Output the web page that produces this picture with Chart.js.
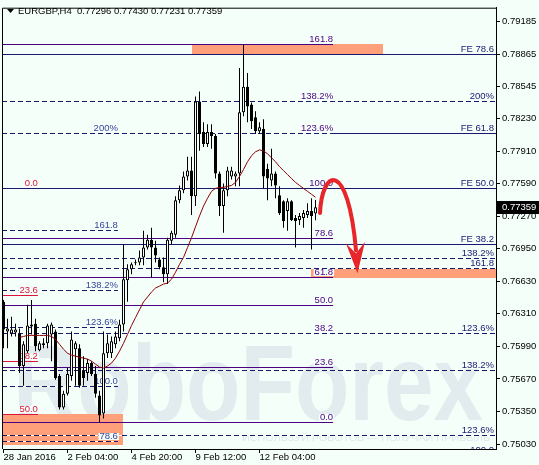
<!DOCTYPE html>
<html>
<head>
<meta charset="utf-8">
<title>EURGBP H4</title>
<script src="https://cdn.jsdelivr.net/npm/chart.js"></script>
<style>
  html, body { margin: 0; padding: 0; background: #f5fffa; }
  #wrap { width: 539px; height: 465px; }
  canvas { display: block; }
</style>
</head>
<body>
<div id="wrap"><canvas id="chart" width="539" height="465"></canvas></div>
<script>
// ---- candles (one H4 bar per index) ----
const opens  = [0.76428,0.76137,0.76117,0.76127,0.76117,0.75797,0.75943,0.76185,0.76214,0.75952,
                0.76001,0.76020,0.76108,0.76137,0.75700,0.75389,0.75525,0.75700,0.75962,0.75972,
                0.75748,0.75729,0.75826,0.75719,0.75506,0.75331,0.75923,0.75923,0.76011,0.76069,
                0.76205,0.76641,0.76748,0.76807,0.76816,0.76865,0.76962,0.77040,0.76962,0.76845,
                0.76768,0.76700,0.77030,0.77088,0.77428,0.77525,0.77661,0.77719,0.77467,0.78399,
                0.78098,0.77981,0.78098,0.78059,0.77690,0.77370,0.77525,0.77661,0.77661,0.77690,
                0.78292,0.78544,0.78370,0.78243,0.78107,0.78127,0.77738,0.77622,0.77690,0.77476,
                0.77418,0.77321,0.77418,0.77253,0.77234,0.77253,0.77282,0.77321,0.77296];
const highs  = [0.76447,0.76263,0.76282,0.76214,0.76166,0.76040,0.76399,0.76447,0.76263,0.76040,
                0.76069,0.76214,0.76224,0.76156,0.75719,0.75554,0.75777,0.76137,0.76040,0.76011,
                0.75894,0.75865,0.75845,0.75797,0.75554,0.76137,0.76108,0.76088,0.76137,0.76253,
                0.76991,0.76797,0.76816,0.76845,0.76933,0.77127,0.77088,0.77156,0.77030,0.76865,
                0.76865,0.77059,0.77127,0.77467,0.77573,0.77709,0.77855,0.77855,0.78447,0.78496,
                0.78195,0.78175,0.78175,0.78078,0.77709,0.77593,0.77758,0.77758,0.77709,0.78729,
                0.78962,0.78680,0.78389,0.78302,0.78195,0.78224,0.77787,0.77933,0.77709,0.77564,
                0.77428,0.77447,0.77428,0.77282,0.77302,0.77331,0.77399,0.77447,0.77430];
const lows   = [0.75972,0.75972,0.76088,0.76088,0.75729,0.75603,0.75923,0.76108,0.75943,0.75943,
                0.75972,0.75972,0.75845,0.75661,0.75370,0.75370,0.75506,0.75651,0.75603,0.75583,
                0.75603,0.75651,0.75700,0.75486,0.75244,0.75282,0.75875,0.75875,0.75972,0.76040,
                0.76137,0.76428,0.76700,0.76787,0.76787,0.76787,0.76942,0.76671,0.76816,0.76748,
                0.76622,0.76603,0.76991,0.77059,0.77399,0.77496,0.77622,0.77282,0.77370,0.77913,
                0.77952,0.77952,0.77933,0.77641,0.77273,0.77107,0.77467,0.77632,0.77564,0.77564,
                0.78253,0.78195,0.78127,0.78078,0.78078,0.77544,0.77428,0.77564,0.77447,0.77282,
                0.77156,0.77127,0.77224,0.76962,0.77185,0.77156,0.77253,0.76942,0.77231];
const closes = [0.76156,0.76166,0.76156,0.76156,0.75797,0.76011,0.76195,0.76205,0.75991,0.76020,
                0.76020,0.76195,0.76205,0.75680,0.75389,0.75525,0.75719,0.76059,0.76020,0.75603,
                0.75680,0.75826,0.75719,0.75525,0.75311,0.75923,0.76020,0.76040,0.76088,0.76205,
                0.76651,0.76748,0.76797,0.76816,0.76865,0.76962,0.77040,0.76962,0.76884,0.76768,
                0.76700,0.77040,0.77107,0.77428,0.77525,0.77661,0.77719,0.77467,0.78399,0.78078,
                0.77981,0.78098,0.78059,0.77690,0.77370,0.77525,0.77719,0.77719,0.77690,0.78292,
                0.78544,0.78350,0.78204,0.78107,0.78146,0.77661,0.77641,0.77690,0.77573,0.77302,
                0.77224,0.77418,0.77234,0.77224,0.77273,0.77302,0.77321,0.77273,0.77359];

// moving average, starting at bar maStart
const maStart = 4;
const maValues = [0.76078,0.76088,0.76098,0.76098,0.76098,0.76098,0.76098,0.76098,0.76088,0.76059,
                  0.76011,0.75962,0.75923,0.75904,0.75894,0.75884,0.75875,0.75865,0.75845,0.75816,
                  0.75787,0.75777,0.75797,0.75826,0.75875,0.75943,0.76020,0.76108,0.76195,0.76273,
                  0.76350,0.76428,0.76476,0.76525,0.76564,0.76583,0.76603,0.76612,0.76651,0.76719,
                  0.76797,0.76865,0.76962,0.77059,0.77166,0.77273,0.77370,0.77447,0.77515,0.77544,
                  0.77554,0.77554,0.77564,0.77573,0.77603,0.77661,0.77729,0.77806,0.77865,0.77904,
                  0.77923,0.77913,0.77884,0.77845,0.77806,0.77758,0.77719,0.77680,0.77641,0.77603,
                  0.77573,0.77544,0.77515,0.77486,0.77457];

// axes
const xTickIdx = [0, 16, 32, 48, 64];
const xTickLabels = ['28 Jan 2016', '2 Feb 04:00', '4 Feb 20:00', '9 Feb 12:00', '12 Feb 04:00'];
const yTicks = [0.79185, 0.78865, 0.78545, 0.78230, 0.77910, 0.77590, 0.77270,
                0.76950, 0.76630, 0.76310, 0.75990, 0.75670, 0.75350, 0.75030];
const xMin = -0.125, xMax = 123.125;
const yMin = 0.74981, yMax = 0.79321;

// fibo tools
const purpleLevels = ['161.8', '138.2%', '123.6%', '100.0', '78.6', '61.8', '50.0', '38.2', '23.6', '0.0'];
const purplePrices = [0.78962, 0.78408, 0.78086, 0.77544, 0.77053, 0.76668, 0.76396, 0.76125, 0.75790, 0.75248];
const purpleDashed = [false, true, true, false, false, false, false, false, false, false];
const feLevels = ['FE 78.6', 'FE 61.8', 'FE 50.0', 'FE 38.2'];
const fePrices = [0.78865, 0.78086, 0.77544, 0.77001];
const rightLevels = ['200%', '138.2%', '161.8', '123.6%', '138.2%', '123.6%', '100.0'];
const rightPrices = [0.78408, 0.76858, 0.76765, 0.76117, 0.75758, 0.75122, 0.74923];
const leftLevels = ['200%', '161.8', '138.2%', '123.6%', '100.0', '78.6'];
const leftPrices = [0.78086, 0.77137, 0.76547, 0.76178, 0.75603, 0.75064];
const redLevels = ['0.0', '23.6', '38.2', '50.0'];
const redPrices = [0.77544, 0.76493, 0.75845, 0.75321];
const purpleEnd = 82.4, leftEnd = 28.6, redEnd = 8.6;

// target zones
const zoneFrom = [47.1, 76.9, -1];
const zoneTo   = [94.9, 130, 29.9];
const zoneHigh = [0.78962, 0.76763, 0.75321];
const zoneLow  = [0.78865, 0.76668, 0.75030];

// forecast arrow: start, two control points, end; then head polygon
const arrowCurve = [[79.13, 0.77302], [79.63, 0.77738], [86.13, 0.77836], [88.13, 0.76933]];
const arrowHead  = [[85.63, 0.77001], [88.13, 0.76904], [90.38, 0.77020], [88.5, 0.76710]];

const BG = '#f5fffa';
const NAVY = '#191970';
const PURPLE = '#4b0082';
const BLUE_LBL = '#36459a';
const RED = '#dc143c';
const FONT = '"Liberation Sans", Arial, sans-serif';

Chart.defaults.font.family = FONT;
Chart.defaults.font.size = 9.5;
Chart.defaults.color = '#000';

function hline(c, py, x0, x1, color, dashed) {
  const yy = Math.round(py) + 0.5;
  c.lineWidth = 1;
  if (dashed) {
    c.setLineDash([]);
    c.strokeStyle = BG;
    c.beginPath(); c.moveTo(x0, yy); c.lineTo(x1, yy); c.stroke();
    c.setLineDash([5, 3]);
  } else {
    c.setLineDash([]);
  }
  c.strokeStyle = color;
  c.beginPath(); c.moveTo(x0, yy); c.lineTo(x1, yy); c.stroke();
  c.setLineDash([]);
}

function tag(c, text, xr, py, color) {
  c.font = '9.5px ' + FONT;
  const w = c.measureText(text).width;
  const base = Math.round(py) - 2;
  c.fillStyle = BG;
  c.fillRect(xr - w - 1, base - 6, w + 2, 7);
  c.fillStyle = color;
  c.textAlign = 'right';
  c.textBaseline = 'alphabetic';
  c.fillText(text, xr, base);
}

const overlay = {
  id: 'overlay',
  beforeDraw(chart) {
    const c = chart.ctx;
    c.save();
    c.fillStyle = BG;
    c.fillRect(0, 0, chart.width, chart.height);
    c.restore();
  },
  beforeDatasetsDraw(chart) {
    const { ctx: c, chartArea: a, scales: { x, y } } = chart;
    c.save();
    c.beginPath();
    c.rect(a.left, a.top, a.right - a.left, a.bottom - a.top);
    c.clip();

    // watermark
    c.fillStyle = '#e2ebed';
    c.font = 'bold 108px ' + FONT;
    c.textAlign = 'left';
    c.textBaseline = 'alphabetic';
    let w = c.measureText('RoboForex').width;
    c.save();
    c.translate(13, 420);
    c.scale(470 / w, 1);
    c.fillText('RoboForex', 0, 0);
    c.restore();
    c.font = '9px ' + FONT;
    c.fillStyle = '#dfe8ea';
    const sub = 'ИСПОЛЬЗУЙ РОБОТОВ — ПОЛУЧАЙ ПРИБЫЛЬ';
    w = c.measureText(sub).width;
    c.save();
    c.translate(242, 441);
    c.scale(248 / w, 1);
    c.fillText(sub, 0, 0);
    c.restore();

    // zones
    c.fillStyle = '#ffa07a';
    zoneFrom.forEach((f, k) => {
      const x0 = x.getPixelForValue(f), x1 = x.getPixelForValue(zoneTo[k]);
      const y0 = Math.round(y.getPixelForValue(zoneHigh[k])), y1 = Math.round(y.getPixelForValue(zoneLow[k]));
      c.fillRect(Math.round(x0), y0, Math.round(x1) - Math.round(x0), y1 - y0 + 1);
    });

    const xl = a.left - 1, xr = a.right + 1;
    const pEnd = x.getPixelForValue(purpleEnd);
    const lEnd = x.getPixelForValue(leftEnd);
    const rEnd = x.getPixelForValue(redEnd);

    // solid lines
    purplePrices.forEach((p, k) => { if (!purpleDashed[k]) hline(c, y.getPixelForValue(p), xl, pEnd, PURPLE, false); });
    redPrices.forEach(p => hline(c, y.getPixelForValue(p), xl, rEnd, RED, false));
    fePrices.forEach(p => hline(c, y.getPixelForValue(p), xl, xr, NAVY, false));
    // dashed lines
    rightPrices.forEach(p => hline(c, y.getPixelForValue(p), xl, xr, NAVY, true));
    leftPrices.forEach(p => hline(c, y.getPixelForValue(p), xl, lEnd, NAVY, true));
    purplePrices.forEach((p, k) => { if (purpleDashed[k]) hline(c, y.getPixelForValue(p), xl, pEnd, NAVY, true); });

    // labels
    purpleLevels.forEach((t, k) => tag(c, t, pEnd, y.getPixelForValue(purplePrices[k]), PURPLE));
    feLevels.forEach((t, k) => tag(c, t, a.right - 2, y.getPixelForValue(fePrices[k]), NAVY));
    rightLevels.forEach((t, k) => tag(c, t, a.right - 2, y.getPixelForValue(rightPrices[k]), NAVY));
    leftLevels.forEach((t, k) => tag(c, t, lEnd, y.getPixelForValue(leftPrices[k]), BLUE_LBL));
    redLevels.forEach((t, k) => tag(c, t, rEnd, y.getPixelForValue(redPrices[k]), RED));
    c.restore();
  },
  afterDatasetsDraw(chart) {
    const { ctx: c, scales: { x, y } } = chart;
    const pt = ([i, v]) => [x.getPixelForValue(i), y.getPixelForValue(v)];
    const [s, c1, c2, e] = arrowCurve.map(pt);
    c.save();
    c.strokeStyle = '#e8262a';
    c.fillStyle = '#e8262a';
    c.lineWidth = 4;
    c.lineCap = 'round';
    c.beginPath();
    c.moveTo(s[0], s[1]);
    c.bezierCurveTo(c1[0], c1[1], c2[0], c2[1], e[0], e[1]);
    c.stroke();
    const h = arrowHead.map(pt);
    c.beginPath();
    c.moveTo(h[0][0], h[0][1]);
    for (let k = 1; k < h.length; k++) c.lineTo(h[k][0], h[k][1]);
    c.closePath();
    c.fill();
    c.restore();
  },
  afterDraw(chart) {
    const { ctx: c, chartArea: a, scales: { y } } = chart;
    c.save();
    // frame (left and top; right and bottom come from the axes)
    c.strokeStyle = '#000';
    c.lineWidth = 1;
    c.beginPath();
    c.moveTo(a.left - 0.5, a.bottom);
    c.lineTo(a.left - 0.5, a.top + 0.5);
    c.lineTo(a.right, a.top + 0.5);
    c.stroke();

    // title
    c.fillStyle = '#000';
    c.beginPath();
    c.moveTo(7, 9); c.lineTo(14, 9); c.lineTo(10.5, 13); c.closePath();
    c.fill();
    const last = opens.length - 1;
    c.font = '9.5px ' + FONT;
    c.textAlign = 'left';
    c.textBaseline = 'middle';
    const ohlc = [opens[last], highs[last], lows[last], closes[last]].map(v => v.toFixed(5)).join(' ');
    c.fillText(symbolTitle + '  ' + ohlc, 18, 11);

    // current price marker
    const py = Math.round(y.getPixelForValue(closes[last]));
    c.fillStyle = '#000';
    c.fillRect(a.right + 1, py - 6, chart.width - a.right - 1, 13);
    c.fillStyle = '#fff';
    c.fillText(closes[last].toFixed(5), a.right + 6, py + 0.5);
    c.restore();
  }
};

const symbolTitle = 'EURGBP,H4';
const idx = opens.map((_, i) => i);
const wickData = idx.map(i => ({ x: i, y: [lows[i], highs[i]] }));
const bodyData = idx.map(i => ({ x: i, y: [opens[i], closes[i]] }));
const maData = maValues.map((v, k) => ({ x: maStart + k, y: v }));

new Chart(document.getElementById('chart').getContext('2d'), {
  type: 'bar',
  data: {
    datasets: [
      {
        type: 'line',
        data: maData,
        borderColor: '#8b0000',
        borderWidth: 1,
        pointRadius: 0,
        tension: 0,
        order: 0
      },
      {
        data: bodyData,
        backgroundColor: (ctx) => closes[ctx.dataIndex] >= opens[ctx.dataIndex] ? '#ffffff' : '#000000',
        borderColor: '#000',
        borderWidth: 1,
        borderSkipped: false,
        barThickness: 3,
        minBarLength: 1,
        inflateAmount: 0,
        grouped: false,
        order: 1
      },
      {
        data: wickData,
        backgroundColor: '#000',
        borderWidth: 0,
        barThickness: 1,
        inflateAmount: 0,
        grouped: false,
        order: 2
      }
    ]
  },
  options: {
    responsive: false,
    animation: false,
    devicePixelRatio: 1,
    layout: { padding: { left: 3, top: 2, right: 0, bottom: 0 } },
    plugins: { legend: { display: false }, tooltip: { enabled: false } },
    scales: {
      x: {
        type: 'linear',
        min: xMin,
        max: xMax,
        offset: false,
        afterBuildTicks: (s) => { s.ticks = xTickIdx.map(v => ({ value: v })); },
        afterFit: (s) => { s.height = 16; },
        ticks: {
          autoSkip: false,
          maxRotation: 0,
          align: 'start',
          padding: -1,
          callback: (v, i) => xTickLabels[i]
        },
        grid: { drawOnChartArea: false, offset: false, tickLength: 4, color: '#000' },
        border: { color: '#000' }
      },
      y: {
        type: 'linear',
        position: 'right',
        min: yMin,
        max: yMax,
        afterBuildTicks: (s) => { s.ticks = yTicks.map(v => ({ value: v })); },
        afterFit: (s) => { s.width = 43; },
        ticks: {
          autoSkip: false,
          padding: 2,
          callback: (v) => v.toFixed(5)
        },
        grid: { drawOnChartArea: false, tickLength: 4, color: '#000' },
        border: { color: '#000' }
      }
    }
  },
  plugins: [overlay]
});
</script>
</body>
</html>
